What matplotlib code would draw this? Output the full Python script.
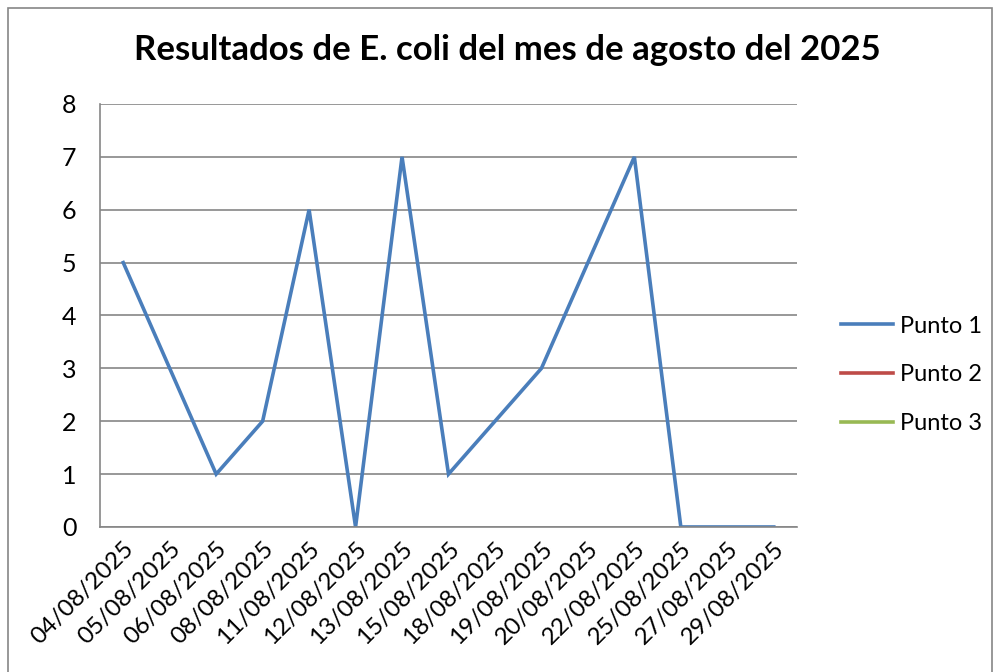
import matplotlib
matplotlib.use("Agg")
import matplotlib.pyplot as plt
from matplotlib.patches import Rectangle

# datos del mes de agosto
fechas = ["04/08/2025", "05/08/2025", "06/08/2025", "08/08/2025", "11/08/2025",
          "12/08/2025", "13/08/2025", "15/08/2025", "18/08/2025", "19/08/2025",
          "20/08/2025", "22/08/2025", "25/08/2025", "27/08/2025", "29/08/2025"]
punto1 = [5, 3, 1, 2, 6, 0, 7, 1, 2, 3, 5, 7, 0, 0, 0]
punto2 = []
punto3 = []
y_ticks = [0, 1, 2, 3, 4, 5, 6, 7, 8]

plt.rcParams['font.family'] = ['Lato', 'DejaVu Sans']

fig = plt.figure(figsize=(10, 6.72), dpi=100)
ax = fig.add_axes([0.1, 0.2158, 0.697, 0.6295])

x = list(range(len(fechas)))
ax.plot(x, punto1, color="#4A7EBB", linewidth=2.6, label="Punto 1", solid_joinstyle="miter")
ax.plot(punto2, color="#BE4B48", linewidth=2.6, label="Punto 2")
ax.plot(punto3, color="#98B954", linewidth=2.6, label="Punto 3")

ax.set_xlim(-0.5, len(fechas) - 0.5)
ax.set_ylim(0, 8)
ax.set_yticks(y_ticks)
ax.set_xticks(x)
ax.set_xticklabels(fechas, rotation=45, ha="right", rotation_mode="anchor")
ax.tick_params(axis="y", length=0, pad=17, labelsize=18)
ax.tick_params(axis="x", length=0, pad=8, labelsize=17.5)
ax.grid(axis="y", color="#868686", linewidth=1.2)
ax.set_axisbelow(True)
for s in ["top", "right"]:
    ax.spines[s].set_visible(False)
for s in ["left", "bottom"]:
    ax.spines[s].set_color("#868686")
    ax.spines[s].set_linewidth(1.2)

fig.text(0.507, 0.926, "Resultados de E. coli del mes de agosto del 2025",
         ha="center", va="center", fontsize=25, fontweight="bold")

ax.legend(loc="center left", bbox_to_anchor=(1.033, 0.36), frameon=False,
          fontsize=17, handlelength=2.2, labelspacing=1.17, handletextpad=0.3)

fig.patches.append(Rectangle((0.008, -0.01), 0.984, 0.998, transform=fig.transFigure,
                             fill=False, edgecolor="#868686", linewidth=1.2))

fig.savefig("out.png", dpi=100)
